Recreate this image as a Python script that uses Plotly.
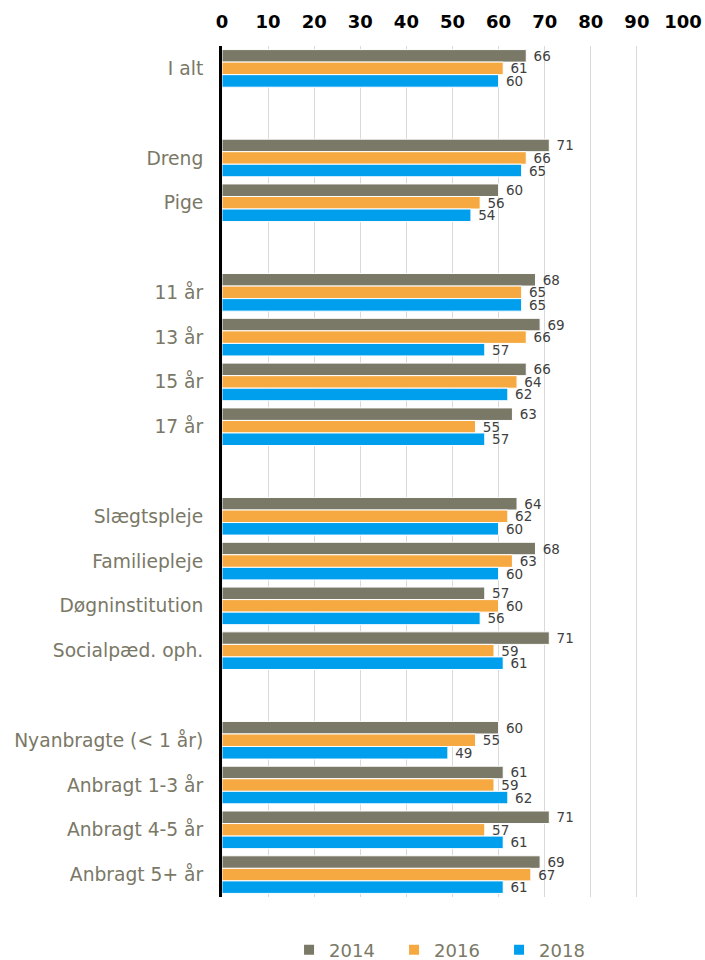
import plotly.graph_objects as go

# Row labels; blank entries separate the groups of categories
categories = [
    "I alt", " ",
    "Dreng", "Pige", "  ",
    "11 år", "13 år", "15 år", "17 år", "   ",
    "Slægtspleje", "Familiepleje", "Døgninstitution", "Socialpæd. oph.", "    ",
    "Nyanbragte (< 1 år)", "Anbragt 1-3 år", "Anbragt 4-5 år", "Anbragt 5+ år",
]

values_2014 = [66, None, 71, 60, None, 68, 69, 66, 63, None, 64, 68, 57, 71, None, 60, 61, 71, 69]
values_2016 = [61, None, 66, 56, None, 65, 66, 64, 55, None, 62, 63, 60, 59, None, 55, 59, 57, 67]
values_2018 = [60, None, 65, 54, None, 65, 57, 62, 57, None, 60, 60, 56, 61, None, 49, 62, 61, 61]

series = [
    ("2014", values_2014, "#7a7866"),
    ("2016", values_2016, "#f7a941"),
    ("2018", values_2018, "#009fee"),
]

x_ticks = list(range(0, 101, 10))

FONT = "DejaVu Sans, Verdana, sans-serif"

fig = go.Figure()
for name, vals, color in series:
    fig.add_trace(go.Bar(
        name=name,
        y=categories,
        x=vals,
        orientation="h",
        marker=dict(color=color, line=dict(color="white", width=1)),
        text=[("" if v is None else " " + str(v)) for v in vals],
        textposition="outside",
        textfont=dict(family=FONT, size=13.5, color="#404040"),
        constraintext="none",
        cliponaxis=False,
        hoverinfo="skip",
    ))

fig.update_layout(
    width=705,
    height=960,
    barmode="group",
    bargap=0.16,
    bargroupgap=0.0,
    plot_bgcolor="white",
    paper_bgcolor="white",
    margin=dict(l=222, r=22, t=46, b=63, autoexpand=False),
    font=dict(family=FONT),
    legend=dict(
        orientation="h",
        xref="container", x=0.41, xanchor="left",
        yref="container", y=0.0104, yanchor="middle",
        font=dict(family=FONT, size=18, color="#7a7866"),
        entrywidth=60, entrywidthmode="pixels",
        traceorder="normal",
        itemsizing="constant",
    ),
)

fig.update_xaxes(
    range=[0, 100],
    side="top",
    tickvals=x_ticks,
    ticktext=[str(t) for t in x_ticks],
    tickfont=dict(family=FONT, size=18, color="black", weight="bold"),
    ticks="outside",
    ticklen=10,
    tickcolor="rgba(0,0,0,0)",
    showgrid=True,
    gridcolor="#d9d9d9",
    gridwidth=1,
    zeroline=False,
    showline=False,
    automargin=False,
    fixedrange=True,
)

fig.update_yaxes(
    categoryorder="array",
    categoryarray=categories,
    autorange="reversed",
    tickfont=dict(family=FONT, size=18.7, color="#7a7866"),
    ticks="outside",
    ticklen=12,
    tickcolor="rgba(0,0,0,0)",
    showline=True,
    linecolor="black",
    linewidth=3,
    showgrid=False,
    automargin=False,
    fixedrange=True,
)

fig.write_html("out.html")
